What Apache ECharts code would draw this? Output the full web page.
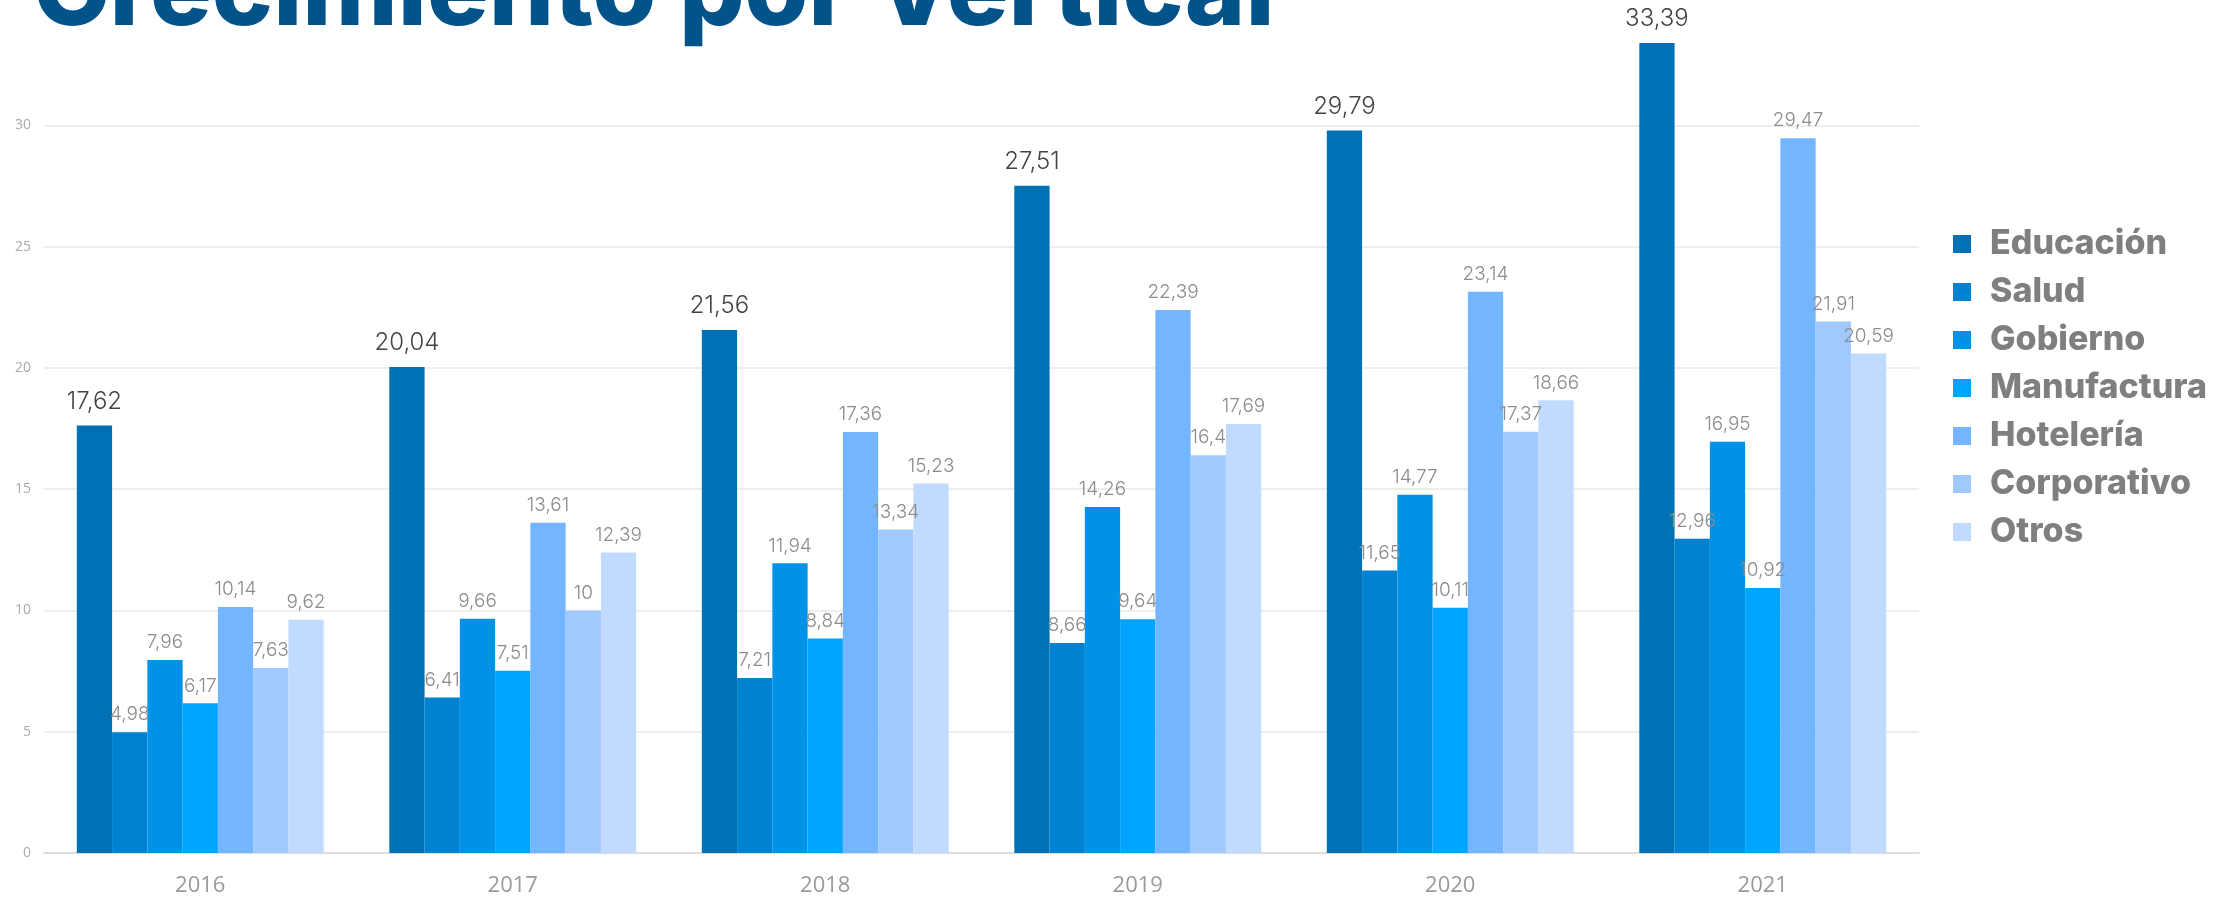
<!DOCTYPE html>
<html>
<head>
<meta charset="utf-8">
<script src="https://cdn.jsdelivr.net/npm/echarts@6/dist/echarts.min.js"></script>
<style>
html,body{margin:0;padding:0;background:#fff;}
#c{width:2229px;height:898px;}
</style>
</head>
<body>
<div id="c"></div>
<script>
const years = ['2016','2017','2018','2019','2020','2021'];
const seriesNames = ['Educación','Salud','Gobierno','Manufactura','Hotelería','Corporativo','Otros'];
const educacion   = [17.62, 20.04, 21.56, 27.51, 29.79, 33.39];
const salud       = [4.98, 6.41, 7.21, 8.66, 11.65, 12.96];
const gobierno    = [7.96, 9.66, 11.94, 14.26, 14.77, 16.95];
const manufactura = [6.17, 7.51, 8.84, 9.64, 10.11, 10.92];
const hoteleria   = [10.14, 13.61, 17.36, 22.39, 23.14, 29.47];
const corporativo = [7.63, 10, 13.34, 16.4, 17.37, 21.91];
const otros       = [9.62, 12.39, 15.23, 17.69, 18.66, 20.59];
const colors = ['#0071B5','#0082D0','#0092E6','#00A3FF','#74B5FF','#A1C8FF','#C1DAFF'];

const allData = [educacion, salud, gobierno, manufactura, hoteleria, corporativo, otros];
const fmt = p => String(p.value).replace('.', ',');

const series = allData.map((d, i) => ({
  name: seriesNames[i],
  type: 'bar',
  data: d,
  barGap: '0%',
  barCategoryGap: '21%',
  itemStyle: { color: colors[i] },
  label: {
    show: true,
    position: 'top',
    distance: i === 0 ? 12 : 8,
    formatter: fmt,
    fontFamily: 'Inter, "Noto Sans", sans-serif',
    fontWeight: 300,
    fontSize: i === 0 ? 24 : 19,
    color: i === 0 ? '#444444' : '#8c8c8c'
  }
}));

const chart = echarts.init(document.getElementById('c'), null, { renderer: 'canvas' });
chart.setOption({
  animation: false,
  backgroundColor: '#ffffff',
  title: {
    text: 'Crecimiento por Vertical',
    left: 28,
    top: -62,
    textStyle: {
      fontFamily: 'Inter, sans-serif',
      fontWeight: 800,
      fontSize: 103,
      color: '#02538A'
    }
  },
  legend: {
    orient: 'vertical',
    left: 1948,
    top: 222,
    itemWidth: 18,
    itemHeight: 18,
    itemGap: 14,
    icon: 'rect',
    data: seriesNames,
    textStyle: {
      fontFamily: 'Inter, sans-serif',
      fontWeight: 800,
      fontSize: 34,
      color: '#7f7f7f',
      padding: [0, 0, 0, 14]
    }
  },
  grid: { left: 44, right: 310, top: 4, bottom: 45, containLabel: false },
  xAxis: {
    type: 'category',
    data: years,
    axisTick: { show: false },
    axisLine: { lineStyle: { color: '#dddddd', width: 2 } },
    axisLabel: {
      margin: 22,
      fontFamily: '"Open Sans", sans-serif',
      fontSize: 22,
      color: '#9a9a9a'
    }
  },
  yAxis: {
    type: 'value',
    min: 0,
    max: 35,
    interval: 5,
    axisLabel: {
      showMaxLabel: false,
      margin: 13,
      fontFamily: '"Open Sans", sans-serif',
      fontSize: 14,
      color: '#aaaaaa'
    },
    splitLine: { showMaxLine: false, lineStyle: { color: '#eeeeee', width: 2 } }
  },
  series: series
});
</script>
</body>
</html>
